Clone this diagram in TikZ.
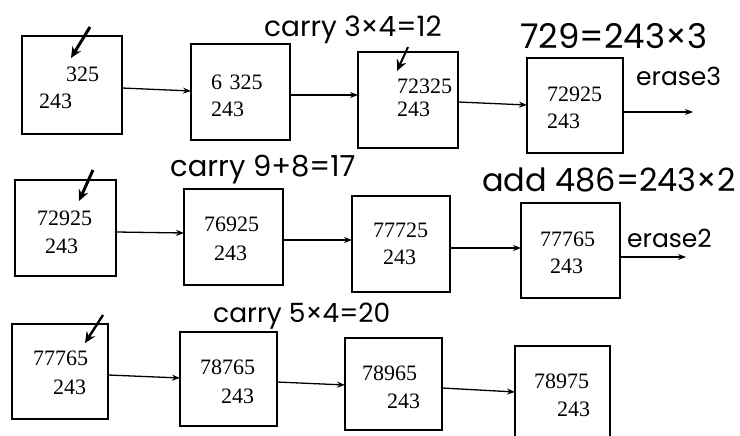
\documentclass[tikz,border=0pt]{standalone}
\usepackage{fontspec}
\setmainfont{Liberation Serif}
\newfontfamily\hand{Poppins}
\usetikzlibrary{arrows.meta}
\tikzset{
  box/.style={draw, line width=1.5pt, inner sep=0pt, outer sep=0pt},
  num/.style={inner sep=0pt, anchor=west, font=\fontsize{22}{24}\selectfont},
  note/.style={inner sep=0pt, anchor=west, font=\hand\fontsize{#1}{30}\selectfont},
  note/.default=26,
  arr/.style={line width=1.3pt, -{Stealth[length=8pt,width=6pt]}},
  penarrow/.style={line width=3pt, -{Stealth[length=11pt,width=10pt]}}
}
\begin{document}
\begin{tikzpicture}[x=1pt,y=-1pt]
\useasboundingbox (0,0) rectangle (740,436);
% row 1
\node[box, minimum width=100pt, minimum height=98pt] (b1) at (72,85) {};
\node[box, minimum width=99pt, minimum height=96pt] (b2) at (240.5,92) {};
\node[box, minimum width=100pt, minimum height=96pt] (b3) at (408,100) {};
\node[box, minimum width=96pt, minimum height=95pt] (b4) at (575,105.5) {};
\coordinate (o1) at (693,112);
\coordinate (ya) at (0,88);  \coordinate (yb) at (0,91);
\coordinate (yc) at (0,95);
\coordinate (yd) at (0,102); \coordinate (ye) at (0,105);
\draw[arr] (b1.east |- ya) -- (b2.west |- yb);
\draw[arr] (b2.east |- yc) -- (b3.west |- yc);
\draw[arr] (b3.east |- yd) -- (b4.west |- ye);
\draw[arr] (b4.east |- o1) -- (o1);
\node[num] (t11) at (66,74) {325};
\node[num] (t12) at (39,101) {243};
\node[num] (t21) at (211,82) {6\,\,325};
\node[num] (t22) at (211,109) {243};
\node[num] (t31) at (397,86) {72325};
\node[num] (t32) at (397,109) {243};
\node[num] (t41) at (547,94) {72925};
\node[num] (t42) at (547,121) {243};
\coordinate (m1a) at (90,27);
\coordinate (m1b) at (71,58);
\draw[penarrow] (m1a) -- (m1b);
\coordinate (m3a) at (408,47);
\coordinate (m3b) at (397,71);
\draw[penarrow, line width=2pt] (m3a) -- (m3b);
\node[note=28] (n1) at (264,30) {carry 3×4=12};
\node[note=34] (n2) at (520,36) {729=243×3};
\node[note=25] (n3) at (636,76) {erase3};
% row 2
\node[box, minimum width=101pt, minimum height=96pt] (c1) at (65.5,228) {};
\node[box, minimum width=99pt, minimum height=96pt] (c2) at (233.5,237) {};
\node[box, minimum width=98pt, minimum height=96pt] (c3) at (401,244) {};
\node[box, minimum width=99pt, minimum height=95pt] (c4) at (570.5,250.5) {};
\coordinate (o2) at (686,257);
\coordinate (yf) at (0,232); \coordinate (yg) at (0,233);
\coordinate (yh) at (0,240);
\coordinate (yi) at (0,248);
\draw[arr] (c1.east |- yf) -- (c2.west |- yg);
\draw[arr] (c2.east |- yh) -- (c3.west |- yh);
\draw[arr] (c3.east |- yi) -- (c4.west |- yi);
\draw[arr] (c4.east |- o2) -- (o2);
\node[num] (s11) at (37,218) {72925};
\node[num] (s12) at (45,246) {243};
\node[num] (s21) at (204,224) {76925};
\node[num] (s22) at (214,253) {243};
\node[num] (s31) at (373,230) {77725};
\node[num] (s32) at (383,257) {243};
\node[num] (s41) at (540,239) {77765};
\node[num] (s42) at (550,266) {243};
\coordinate (m4a) at (93,170);
\coordinate (m4b) at (79,201);
\draw[penarrow] (m4a) -- (m4b);
\node[note=29] (n4) at (170,170) {carry 9+8=17};
\node[note=32] (n5) at (482,180) {add 486=243×2};
\node[note=25] (n6) at (627,238) {erase2};
% row 3
\node[box, minimum width=96pt, minimum height=95pt] (d1) at (60,371.5) {};
\node[box, minimum width=97pt, minimum height=94pt] (d2) at (228.5,379) {};
\node[box, minimum width=97pt, minimum height=92pt] (d3) at (393.5,384) {};
\node[box, minimum width=95pt, minimum height=96pt] (d4) at (562.5,394) {};
\coordinate (yj) at (0,375); \coordinate (yk) at (0,378);
\coordinate (yl) at (0,382); \coordinate (ym) at (0,385);
\coordinate (yn) at (0,388); \coordinate (yo) at (0,392);
\draw[arr] (d1.east |- yj) -- (d2.west |- yk);
\draw[arr] (d2.east |- yl) -- (d3.west |- ym);
\draw[arr] (d3.east |- yn) -- (d4.west |- yo);
\node[num] (u11) at (33,358) {77765};
\node[num] (u12) at (53,387) {243};
\node[num] (u21) at (200,367) {78765};
\node[num] (u22) at (221,396) {243};
\node[num] (u31) at (362,373) {78965};
\node[num] (u32) at (387,401) {243};
\node[num] (u41) at (534,381) {78975};
\node[num] (u42) at (557,409) {243};
\coordinate (m7a) at (103,315);
\coordinate (m7b) at (85,343);
\draw[penarrow, line width=2.4pt] (m7a) -- (m7b);
\node[note=26.5] (n7) at (213,316) {carry 5×4=20};
\end{tikzpicture}
\end{document}
